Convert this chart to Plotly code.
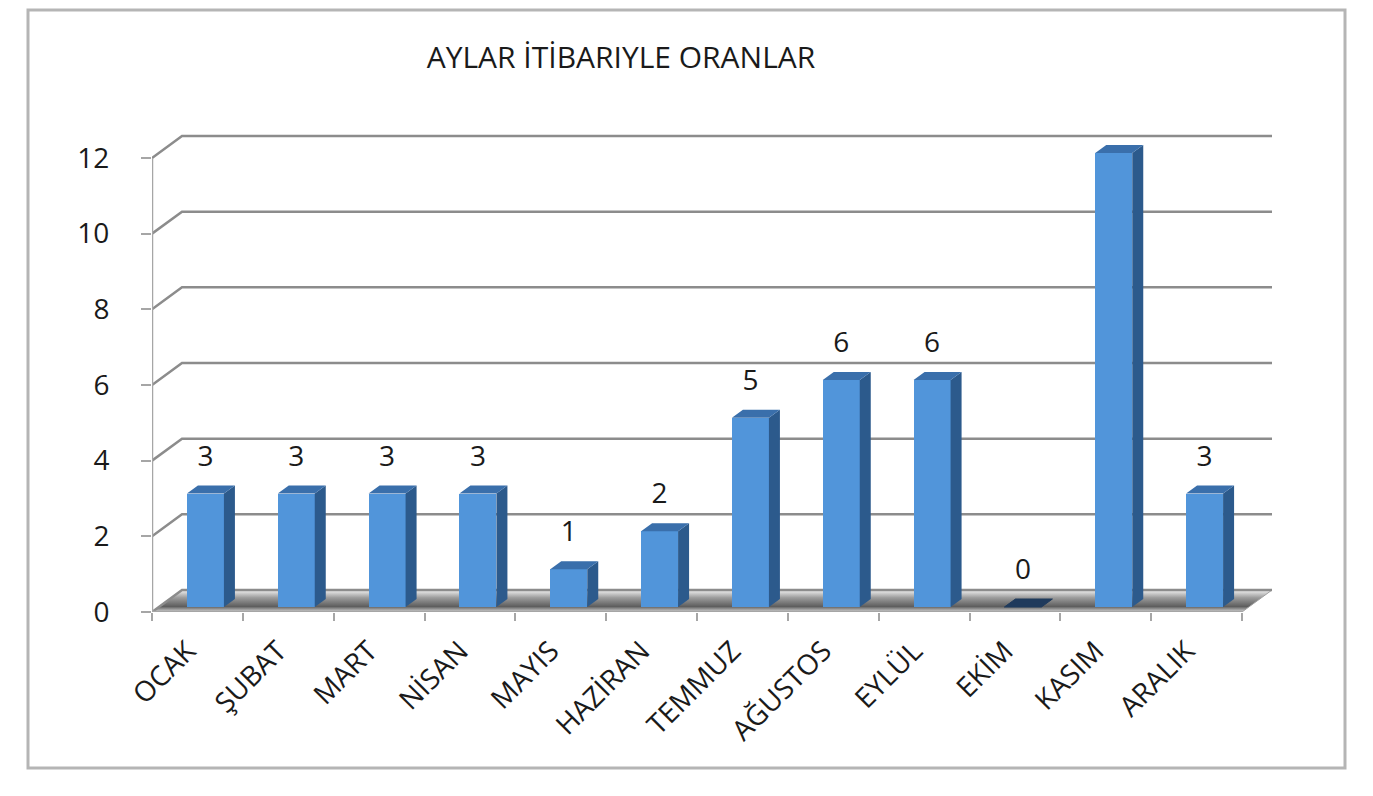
import plotly.graph_objects as go

# ---- data ----
months = ["OCAK", "ŞUBAT", "MART", "NİSAN", "MAYIS", "HAZİRAN", "TEMMUZ",
          "AĞUSTOS", "EYLÜL", "EKİM", "KASIM", "ARALIK"]
values = [3, 3, 3, 3, 1, 2, 5, 6, 6, 0, 12, 3]
y_ticks = [0, 2, 4, 6, 8, 10, 12]
title_text = "AYLAR İTİBARIYLE ORANLAR"

# ---- geometry (pixels, reference image coordinates) ----
PAGE = 8                     # default page body margin
W, H = 1373 - 2 * PAGE, 796 - 2 * PAGE
X0, Y0 = 152 - PAGE, 612 - PAGE   # pixel position of (0,0)
PXU_X = 1090 / 12            # pixels per category
PXU_Y = 454 / 12             # pixels per value unit
R_PX, T_PX = 1276 - PAGE, 128 - PAGE
BDX, BDY = 30, 22            # depth offset of back wall (px)
OFF_X, OFF_Y = 8, 5          # bar front-face depth offset (px)
SDX, SDY = 11, 8             # bar side depth (px)
BAR_W = 37                   # bar width (px)

n = len(months)
xmax = (R_PX - X0) / PXU_X
ymax = (Y0 - T_PX) / PXU_Y
bdx, bdy = BDX / PXU_X, BDY / PXU_Y
ox, oy = OFF_X / PXU_X, OFF_Y / PXU_Y
sdx, sdy = SDX / PXU_X, SDY / PXU_Y
bw = BAR_W / PXU_X

FONT = "Open Sans"
GRID_C = "#8c8c8c"
AXIS_C = "#a6a6a6"
FRONT_C = "#5195da"
SIDE_C = "#2c5a8c"
TOP_C = "#3a6fab"
ZERO_C = "#1f3a5c"

fig = go.Figure()

# floor
fig.add_trace(go.Scatter(
    x=[0, n, n + bdx, bdx, 0], y=[0, 0, bdy, bdy, 0],
    fill="toself", mode="lines",
    fillgradient=dict(type="vertical",
                      colorscale=[[0, "#d8d8d8"], [0.25, "#5e5e5e"],
                                  [0.65, "#9c9c9c"], [1, "#f2f2f2"]]),
    line=dict(color="#a0a0a0", width=1), hoverinfo="skip", showlegend=False,
    xaxis="x", yaxis="y"))

# back-wall gridlines with diagonal connectors
gx, gy = [], []
for t in y_ticks:
    gx += [0, bdx, n + bdx, None]
    gy += [t, t + bdy, t + bdy, None]
fig.add_trace(go.Scatter(x=gx, y=gy, mode="lines",
                         line=dict(color=GRID_C, width=2.5),
                         hoverinfo="skip", showlegend=False,
                         xaxis="x", yaxis="y"))

# front axis lines
fig.add_trace(go.Scatter(x=[0, 0, None, 0, n], y=[y_ticks[-1], 0, None, 0, 0],
                         mode="lines", line=dict(color=AXIS_C, width=2.5),
                         hoverinfo="skip", showlegend=False,
                         xaxis="x", yaxis="y"))

# bars: front faces
centers = [i + 0.5 + ox for i in range(n)]
fig.add_trace(go.Bar(x=centers, y=values, base=oy, width=bw,
                     marker=dict(color=FRONT_C, line=dict(width=0)),
                     hoverinfo="skip", showlegend=False,
                     xaxis="x2", yaxis="y2"))

# side and top faces
sx, sy, tx, ty = [], [], [], []
zx, zy = [], []
for c, v in zip(centers, values):
    xl, xr = c - bw / 2, c + bw / 2
    sx += [xr, xr + sdx, xr + sdx, xr, xr, None]
    sy += [oy, oy + sdy, oy + v + sdy, oy + v, oy, None]
    top_x = [xl, xl + sdx, xr + sdx, xr, xl, None]
    top_y = [oy + v, oy + v + sdy, oy + v + sdy, oy + v, oy + v, None]
    if v == 0:
        zx += top_x
        zy += top_y
    else:
        tx += top_x
        ty += top_y
fig.add_trace(go.Scatter(x=sx, y=sy, fill="toself", fillcolor=SIDE_C, mode="lines",
                         line=dict(width=0, color=SIDE_C), hoverinfo="skip",
                         showlegend=False, xaxis="x2", yaxis="y2"))
fig.add_trace(go.Scatter(x=tx, y=ty, fill="toself", fillcolor=TOP_C, mode="lines",
                         line=dict(width=0, color=TOP_C), hoverinfo="skip",
                         showlegend=False, xaxis="x2", yaxis="y2"))
if zx:
    fig.add_trace(go.Scatter(x=zx, y=zy, fill="toself", fillcolor=ZERO_C, mode="lines",
                             line=dict(width=1, color=ZERO_C), hoverinfo="skip",
                             showlegend=False, xaxis="x2", yaxis="y2"))

# data labels
LABEL_GAP = 35 / PXU_Y
fig.add_trace(go.Scatter(x=centers, y=[oy + v + LABEL_GAP for v in values],
                         mode="text", text=[str(v) for v in values],
                         textposition="middle center",
                         textfont=dict(family=FONT, size=28, color="#1a1a1a"),
                         hoverinfo="skip", showlegend=False,
                         xaxis="x2", yaxis="y2"))

def px_to_paper_x(px):
    return (px - PAGE - X0) / (R_PX - X0)

def px_to_paper_y(py):
    return (Y0 - (py - PAGE)) / (Y0 - T_PX)

fig.update_layout(
    width=W, height=H,
    margin=dict(l=X0, r=W - R_PX, t=T_PX, b=H - Y0, autoexpand=False),
    paper_bgcolor="white", plot_bgcolor="rgba(0,0,0,0)",
    title=dict(text=title_text, x=(621 - PAGE) / W, y=1 - (57 - PAGE) / H,
               xanchor="center", yanchor="middle",
               font=dict(family=FONT, size=30, color="#1a1a1a")),
    xaxis=dict(range=[0, xmax], tickvals=[i + 0.5 for i in range(n)],
               ticktext=months, tickangle=-45, ticks="", showgrid=False,
               zeroline=False, showline=False, ticklabelstandoff=16,
               ticklabelshift=-10,
               tickfont=dict(family=FONT, size=28, color="#1a1a1a"),
               fixedrange=True),
    yaxis=dict(range=[0, ymax], tickvals=y_ticks, ticks="outside", ticklen=10,
               tickwidth=2, tickcolor=AXIS_C, showgrid=False, zeroline=False,
               showline=False, ticklabelstandoff=26,
               tickfont=dict(family=FONT, size=28, color="#1a1a1a"),
               fixedrange=True),
    xaxis2=dict(range=[0, xmax], overlaying="x", side="bottom",
                tickvals=list(range(n + 1)), ticks="outside", ticklen=8,
                tickwidth=2, tickcolor=AXIS_C, showticklabels=False,
                showgrid=False, zeroline=False, showline=False, fixedrange=True),
    yaxis2=dict(range=[0, ymax], overlaying="y", showticklabels=False,
                ticks="", showgrid=False, zeroline=False, showline=False,
                fixedrange=True),
    bargap=0,
    shapes=[dict(type="rect", xref="paper", yref="paper",
                 x0=px_to_paper_x(28), x1=px_to_paper_x(1345),
                 y0=px_to_paper_y(768), y1=px_to_paper_y(PAGE + 2),
                 line=dict(color="#b5b5b5", width=3), fillcolor="rgba(0,0,0,0)",
                 layer="below")],
)

fig.write_html("out.html")
